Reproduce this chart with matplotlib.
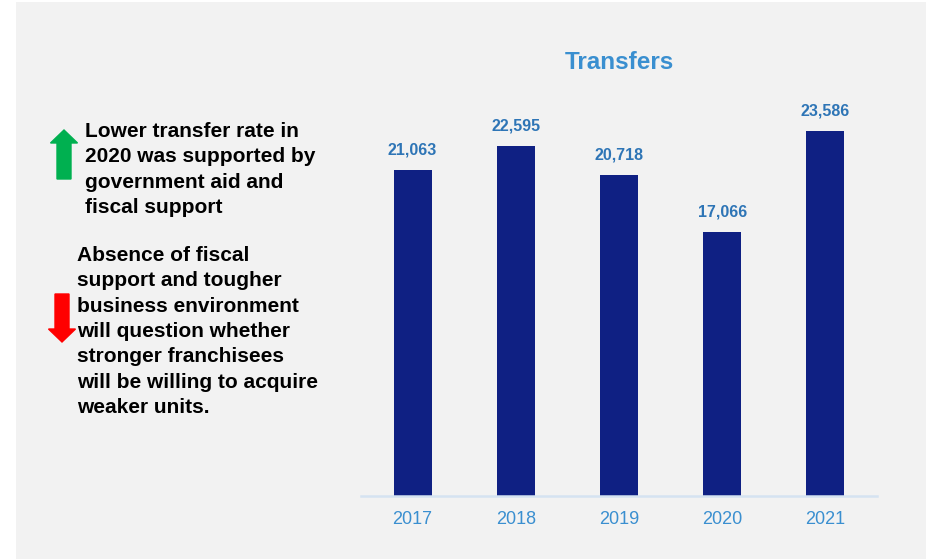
import matplotlib.pyplot as plt
from matplotlib.patches import Rectangle, FancyArrow

plt.rcParams['font.family'] = ['Liberation Sans', 'DejaVu Sans']

years = ['2017', '2018', '2019', '2020', '2021']
transfers = [21063, 22595, 20718, 17066, 23586]

note_up = "Lower transfer rate in\n2020 was supported by\ngovernment aid and\nfiscal support"
note_down = ("Absence of fiscal\nsupport and tougher\nbusiness environment\n"
             "will question whether\nstronger franchisees\nwill be willing to acquire\nweaker units.")

panel_bg = '#f2f2f2'
bar_color = '#0f2083'
label_color = '#2e75b6'
title_color = '#3a8fd0'
tick_color = '#3a8fd0'
W, H = 926, 559

fig = plt.figure(figsize=(W / 100, H / 100), dpi=100)
fig.patch.set_facecolor('white')
fig.patches.append(Rectangle((16 / W, 0), 1 - 16 / W, 1 - 2 / H, transform=fig.transFigure,
                             facecolor=panel_bg, edgecolor='none', zorder=-10))

# bar chart on the right
ax = fig.add_axes([361 / W, 1 - 496 / H, 516 / W, 402.5 / H])
ax.set_facecolor('none')
x = range(len(years))
bars = ax.bar(x, transfers, width=0.37, color=bar_color, zorder=2)
for b, v in zip(bars, transfers):
    ax.annotate(f"{v:,}", (b.get_x() + b.get_width() / 2, v), xytext=(0, 9),
                textcoords='offset points', ha='center', va='bottom',
                fontsize=11.5, fontweight='bold', color=label_color)

ax.set_xlim(-0.5, 4.5)
ax.set_ylim(0, 26000)
ax.set_xticks(list(x))
ax.set_xticklabels(years, fontsize=13, color=tick_color)
ax.tick_params(axis='x', length=0, pad=11)
ax.set_yticks([])
for s in ['top', 'right', 'left']:
    ax.spines[s].set_visible(False)
ax.spines['bottom'].set_color('#d5e3f1')
ax.spines['bottom'].set_linewidth(1.8)
ax.text(0.5, 1.078, "Transfers", transform=ax.transAxes, ha='center', va='center',
        fontsize=17.5, fontweight='bold', color=title_color)

# commentary on the left
fig.text(85 / W, 1 - 122 / H, note_up, ha='left', va='top', fontsize=15,
         fontweight='bold', color='black', linespacing=1.42)
fig.text(77 / W, 1 - 246 / H, note_down, ha='left', va='top', fontsize=15,
         fontweight='bold', color='black', linespacing=1.42)

# green up arrow, red down arrow (drawn in pixel units)
def arrow(xc, y0, dy, color):
    a = FancyArrow(xc / 100, (H - y0) / 100, 0, -dy / 100, width=14 / 100,
                   head_width=27 / 100, head_length=13 / 100,
                   length_includes_head=True, color=color,
                   transform=fig.dpi_scale_trans)
    fig.patches.append(a)

arrow(64, 179, -49, '#00b050')
arrow(62, 294, 48, '#ff0000')

fig.savefig('out.png', dpi=100, facecolor=fig.get_facecolor())
